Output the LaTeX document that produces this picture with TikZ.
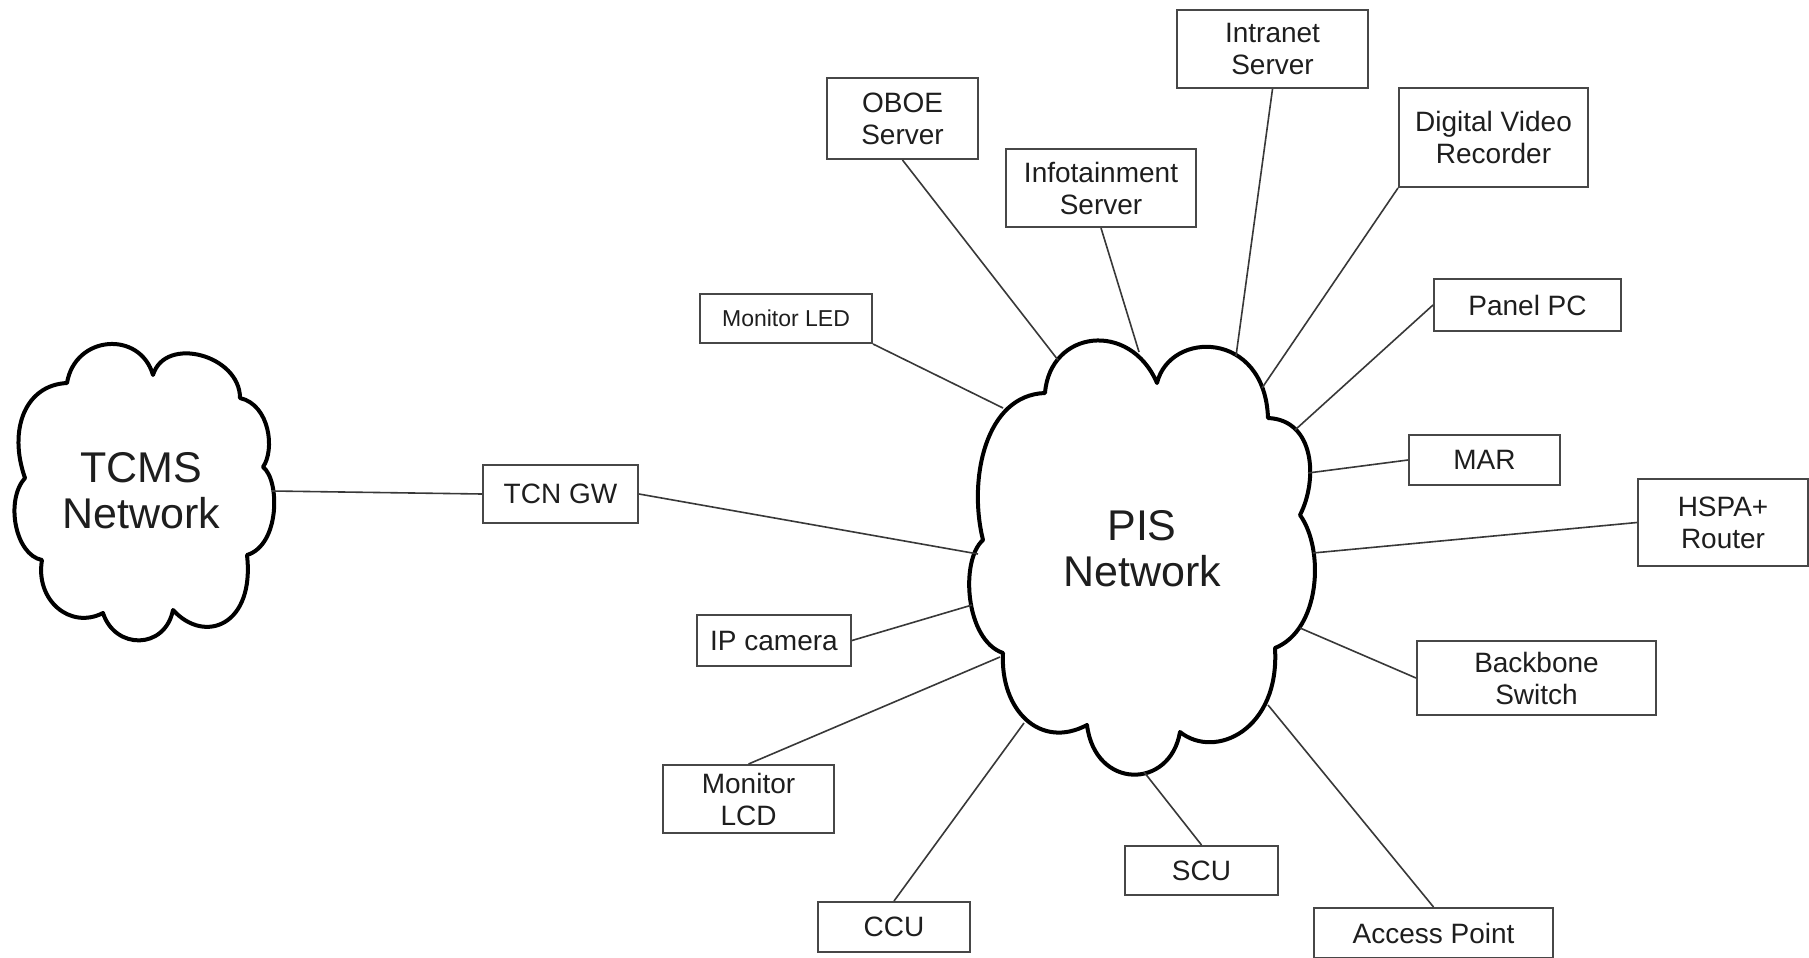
\documentclass[tikz,border=0pt]{standalone}
\usepackage{fontspec}
\setmainfont{Liberation Sans}
\begin{document}
\begin{tikzpicture}[x=1pt,y=-1pt,
  box/.style={draw=boxgray,line width=2pt,fill=white,rectangle,inner sep=0pt,
    align=center,text=txt,font=\fontsize{28}{32}\selectfont},
  smallbox/.style={box,font=\fontsize{23}{27}\selectfont},
  cloudline/.style={draw=black,line width=4pt,fill=white,line join=round},
  cloudtext/.style={align=center,text=txt,font=\fontsize{43}{46}\selectfont},
  link/.style={draw=linegray,line width=1.6pt}]
\definecolor{boxgray}{HTML}{474747}
\definecolor{linegray}{HTML}{383838}
\definecolor{txt}{HTML}{1E1E1E}
\useasboundingbox[fill=white] (0,0) rectangle (1809,958);

% clouds
\path[cloudline] (25,478) .. controls (8,430) and (25,385) .. (67,383)
 .. controls (75,335) and (140,330) .. (153,375)
 .. controls (165,335) and (240,355) .. (240,398)
 .. controls (270,405) and (275,450) .. (263,467)
 .. controls (280,480) and (280,545) .. (247,555)
 .. controls (255,625) and (205,645) .. (173,610)
 .. controls (165,650) and (115,650) .. (103,613)
 .. controls (70,630) and (35,600) .. (42,560)
 .. controls (15,555) and (5,500) .. (25,478) -- cycle;
\node[cloudtext] (tcms) at (141,491) {TCMS\\Network};

\path[cloudline] (983,540) .. controls (968,480) and (985,395) .. (1045,393)
 .. controls (1050,330) and (1130,320) .. (1157,383)
 .. controls (1170,330) and (1265,330) .. (1268,418)
 .. controls (1315,420) and (1318,480) .. (1300,515)
 .. controls (1325,550) and (1320,630) .. (1275,648)
 .. controls (1280,730) and (1215,760) .. (1180,732)
 .. controls (1170,790) and (1095,790) .. (1087,725)
 .. controls (1040,750) and (1000,710) .. (1003,653)
 .. controls (965,640) and (960,560) .. (983,540) -- cycle;
\node[cloudtext] (pis) at (1142,549) {PIS\\Network};

% attachment points on the clouds
\coordinate (tcmsE) at (272,491);
\coordinate (pTCN) at (978,554);
\coordinate (pLED) at (1003,408);
\coordinate (pOBOE) at (1058,360);
\coordinate (pInfo) at (1139,352);
\coordinate (pIntra) at (1236,356);
\coordinate (pDVR) at (1262,388);
\coordinate (pPanel) at (1295,430);
\coordinate (pMAR) at (1308,473);
\coordinate (pHSPA) at (1313,553);
\coordinate (pBack) at (1300,628);
\coordinate (pAP) at (1268,705);
\coordinate (pSCU) at (1144,772);
\coordinate (pCCU) at (1024,723);
\coordinate (pLCD) at (1000,657);
\coordinate (pIP) at (972,605);

% boxes
\node[box,minimum width=155pt,minimum height=58pt] (tcn) at (560.5,494) {TCN GW};
\node[smallbox,minimum width=172pt,minimum height=49pt] (led) at (786,318.5) {Monitor LED};
\node[box,minimum width=151pt,minimum height=81pt] (oboe) at (902.5,118.5) {OBOE\\Server};
\node[box,minimum width=190pt,minimum height=78pt] (info) at (1101,188) {Infotainment\\Server};
\node[box,minimum width=191pt,minimum height=78pt] (intra) at (1272.5,49) {Intranet\\Server};
\node[box,minimum width=189pt,minimum height=99pt] (dvr) at (1493.5,137.5) {Digital Video\\Recorder};
\node[box,minimum width=187pt,minimum height=52pt] (panel) at (1527.5,305) {Panel PC};
\node[box,minimum width=151pt,minimum height=50pt] (mar) at (1484.5,460) {MAR};
\node[box,minimum width=170pt,minimum height=87pt] (hspa) at (1723,522.5) {HSPA+\\Router};
\node[box,minimum width=239pt,minimum height=74pt] (back) at (1536.5,678) {Backbone\\Switch};
\node[box,minimum width=239pt,minimum height=50pt] (ap) at (1433.5,933) {Access Point};
\node[box,minimum width=153pt,minimum height=49pt] (scu) at (1201.5,870.5) {SCU};
\node[box,minimum width=152pt,minimum height=50pt] (ccu) at (894,927) {CCU};
\node[box,minimum width=171pt,minimum height=68pt] (lcd) at (748.5,799) {Monitor\\LCD};
\node[box,minimum width=154pt,minimum height=51pt] (ip) at (774,640.5) {IP camera};

% connectors
\path[link] (tcmsE) -- (tcn.west);
\path[link] (tcn.east) -- (pTCN);
\path[link] (led.south east) -- (pLED);
\path[link] (oboe.south) -- (pOBOE);
\path[link] (info.south) -- (pInfo);
\path[link] (intra.south) -- (pIntra);
\path[link] (dvr.south west) -- (pDVR);
\path[link] (panel.west) -- (pPanel);
\path[link] (mar.west) -- (pMAR);
\path[link] (hspa.west) -- (pHSPA);
\path[link] (back.west) -- (pBack);
\path[link] (ap.north) -- (pAP);
\path[link] (scu.north) -- (pSCU);
\path[link] (ccu.north) -- (pCCU);
\path[link] (lcd.north) -- (pLCD);
\path[link] (ip.east) -- (pIP);
\end{tikzpicture}
\end{document}
